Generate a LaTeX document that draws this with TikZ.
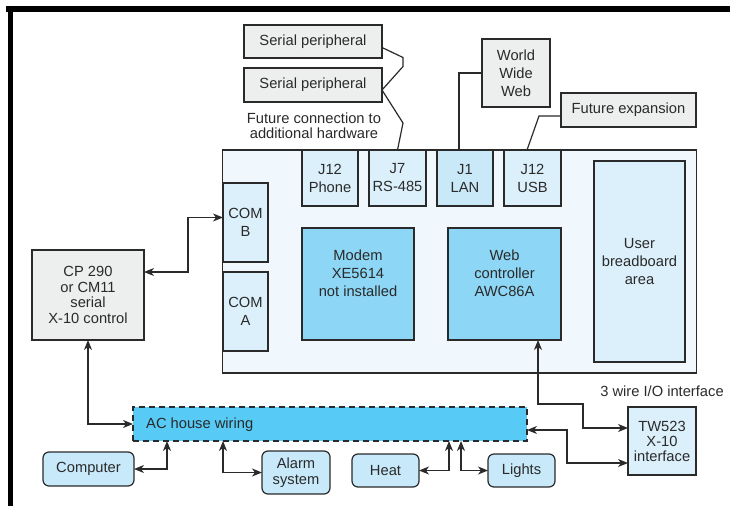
\documentclass[tikz,border=0pt]{standalone}
\usepackage{fontspec}
\setmainfont{Liberation Sans}
\usetikzlibrary{arrows.meta,calc}
\definecolor{ink}{HTML}{2A2A2A}
\definecolor{graybox}{HTML}{EDEEEE}
\definecolor{boardfill}{HTML}{F1F8FD}
\definecolor{lightblue}{HTML}{DCF0FB}
\definecolor{lanblue}{HTML}{C9E9F9}
\definecolor{chipblue}{HTML}{8DD6F5}
\definecolor{acblue}{HTML}{57CBF5}
\definecolor{devblue}{HTML}{C8E9F9}
\tikzset{
  base/.style={draw=ink, line width=1.2pt, inner sep=0pt, outer sep=0pt, align=center, text=ink,
    font=\fontsize{14.7}{15.5}\selectfont},
  graynode/.style={base, fill=graybox},
  boardbox/.style={base, fill=boardfill},
  portbox/.style={base, fill=lightblue, font=\fontsize{14.7}{18}\selectfont},
  chipbox/.style={base, fill=chipblue, font=\fontsize{14.7}{18}\selectfont},
  devbox/.style={base, fill=devblue, rounded corners=6pt},
  wire/.style={draw=ink, line width=1.2pt},
  both/.style={wire, {Stealth[length=10pt,width=8pt,inset=3pt]}-{Stealth[length=10pt,width=8pt,inset=3pt]}},
  plain/.style={text=ink, align=center, inner sep=0pt, font=\fontsize{14.7}{15.5}\selectfont}
}
\begin{document}
\begin{tikzpicture}[x=1pt,y=-1pt]
\useasboundingbox (0,0) rectangle (730,506);
% frame
\fill[black] (6,6) rectangle (730,12);
\fill[black] (8,6) rectangle (13,506);

% top peripherals
\node[graynode, minimum width=138pt, minimum height=33pt] (sp1) at (313,41.5) {\raisebox{-1.5pt}{Serial peripheral}};
\node[graynode, minimum width=138pt, minimum height=34pt] (sp2) at (313,85) {\raisebox{-1.5pt}{Serial peripheral}};
\node[plain, font=\fontsize{14.7}{15}\selectfont] (future) at (314,126) {Future connection to\\additional hardware};
\node[graynode, minimum width=68pt, minimum height=68pt, font=\fontsize{14.7}{18}\selectfont] (www) at (516,73) {World\\Wide\\Web};
\node[graynode, minimum width=135pt, minimum height=34pt] (fexp) at (628.5,110) {\raisebox{-1.5pt}{Future expansion}};

% board
\node[boardbox, minimum width=474pt, minimum height=223pt] (board) at (459.5,261.5) {};
\node[portbox, minimum width=56pt, minimum height=56pt] (j12p) at (330,178) {J12\\Phone};
\node[portbox, minimum width=57pt, minimum height=56pt] (j7) at (397.5,178) {J7\\RS-485};
\node[portbox, fill=lanblue, minimum width=56pt, minimum height=56pt] (j1) at (465,178) {J1\\LAN};
\node[portbox, minimum width=57pt, minimum height=56pt] (j12u) at (532.5,178) {J12\\USB};
\node[portbox, minimum width=45pt, minimum height=79pt] (comb) at (245.5,222.5) {COM\\B};
\node[portbox, minimum width=45pt, minimum height=79pt] (coma) at (245.5,311.5) {COM\\A};
\node[chipbox, minimum width=112pt, minimum height=112pt, text depth=22pt] (modem) at (358,284) {Modem\\XE5614\\not installed};
\node[chipbox, minimum width=113pt, minimum height=112pt, text depth=22pt] (web) at (504.5,284) {Web\\controller\\AWC86A};
\node[portbox, minimum width=91pt, minimum height=201pt] (ubb) at (639.5,261.5) {User\\breadboard\\area};

% left control
\node[graynode, minimum width=112pt, minimum height=90pt] (cp) at (88,295) {CP 290\\or CM11\\serial\\X-10 control};

% AC wiring
\node[base, fill=acblue, dash pattern=on 6pt off 4pt, minimum width=394pt, minimum height=34pt] (ac) at (330,424) {};
\node[plain, anchor=west] (aclabel) at (146,425) {AC house wiring};

% devices
\node[devbox, minimum width=91pt, minimum height=34pt] (comp) at (88.5,469) {\raisebox{-1.5pt}{Computer}};
\node[devbox, minimum width=68pt, minimum height=43pt] (alarm) at (296,472.5) {Alarm\\system};
\node[devbox, minimum width=67pt, minimum height=33pt] (heat) at (385.5,470.5) {Heat};
\node[devbox, minimum width=67pt, minimum height=33pt] (lights) at (521.5,470.5) {Lights};
\node[portbox, font=\fontsize{14.7}{15}\selectfont, minimum width=68pt, minimum height=68pt] (tw) at (662,441) {TW523\\X-10\\interface};
\node[plain] (wirelabel) at (662,391) {3 wire I/O interface};

% connectors at top
\draw[wire] ($(sp1.east)+(0,6)$) -- ++(21,10) -- ++(0,9) -- ($(sp2.east)+(0,5)$) -- ++(21,33) -- (j7.north);
\draw[wire] (www.west) -| ($(j1.north)+(-6,0)$);
\draw[wire] ($(fexp.west)+(0,6)$) -- ++(-22,0) -- ($(j12u.north)+(-5.5,0)$);

% arrows
\draw[both] ($(cp.east)+(0,-23)$) -- (188,272) |- ($(comb.west)+(0,-5)$);
\draw[both] (cp.south) |- (ac.west);
\draw[both] (comp.east) -| ($(ac.south west)+(34,0)$);
\draw[both] ($(ac.south west)+(90,0)$) |- (alarm.west);
\draw[both] (heat.east) -| ($(ac.south west)+(316,0)$);
\draw[both] ($(ac.south west)+(328,0)$) |- (lights.west);
\draw[both] ($(web.south)+(33.5,0)$) |- (583,404) |- ($(tw.west)+(0,-13)$);
\draw[both] ($(ac.east)+(0,6)$) -| (567,446) |- ($(tw.west)+(0,22)$);
\end{tikzpicture}
\end{document}
